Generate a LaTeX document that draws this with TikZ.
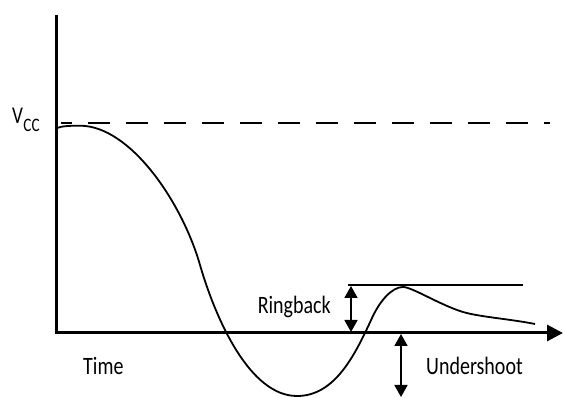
\documentclass[tikz,border=0pt]{standalone}
\usepackage{fontspec}
\setmainfont{Carlito}[FakeStretch=0.8]
\usetikzlibrary{arrows.meta}
\begin{document}
\begin{tikzpicture}[x=1pt,y=-1pt,
  axisline/.style={line width=3pt},
  thinline/.style={line width=1.8pt},
  dimarrow/.style={line width=1.8pt,{Triangle[width=13pt,length=12pt]}-{Triangle[width=13pt,length=12pt]}},
  lbl/.style={inner sep=0pt,font=\fontsize{25}{28}\selectfont}]
\useasboundingbox (0,0) rectangle (563,398);
% axes
\coordinate (ytop) at (56,15);
\coordinate (origin) at (56,333);
\coordinate (xend) at (563,333);
\draw[axisline] (ytop) -- (origin);
\draw[axisline,-{Triangle[width=16pt,length=16pt]}] ([xshift=-1.5pt]origin) -- (xend);
% Vcc dashed level
\coordinate (vcca) at (61,123);
\coordinate (vccb) at (550,123);
\draw[thinline,dash pattern=on 22pt off 16pt,dash phase=11pt] (vcca) -- (vccb);
\node[inner sep=0pt,anchor=base west,font=\fontsize{24}{26}\selectfont] (vcc) at (12,124) {V};
\node[inner sep=0pt,anchor=base west,font=\fontsize{19}{21}\selectfont] (vccsub) at ([yshift=-8pt]vcc.base east) {CC};
% waveform
\draw[thinline,line join=round]
  (57,128) .. controls (62,126) and (70,125.7) .. (80,125.7)
  .. controls (130,125.7) and (182,202) .. (200,265)
  .. controls (216,320) and (250,396) .. (297,396)
  .. controls (335,396) and (355,355) .. (372,318)
  .. controls (380,300.6) and (392,287) .. (403,287)
  .. controls (412,287) and (440,305) .. (463,312)
  .. controls (480,317) and (510,319) .. (535,324);
% ringback
\coordinate (rbl) at (348,285);
\coordinate (rbr) at (523,285);
\draw[thinline] (rbl) -- (rbr);
\coordinate (rbtop) at (351,286);
\coordinate (rbbot) at (351,332);
\draw[dimarrow] (rbtop) -- (rbbot);
\node[lbl,anchor=base east] (ringback) at (331,314) {Ringback};
% undershoot
\coordinate (ustop) at (401,334);
\coordinate (usbot) at (401,397);
\draw[dimarrow] (ustop) -- (usbot);
\node[lbl,anchor=base west] (undershoot) at (426,374) {Undershoot};
\node[lbl,anchor=base west] (time) at (83,374) {Time};
\end{tikzpicture}
\end{document}
